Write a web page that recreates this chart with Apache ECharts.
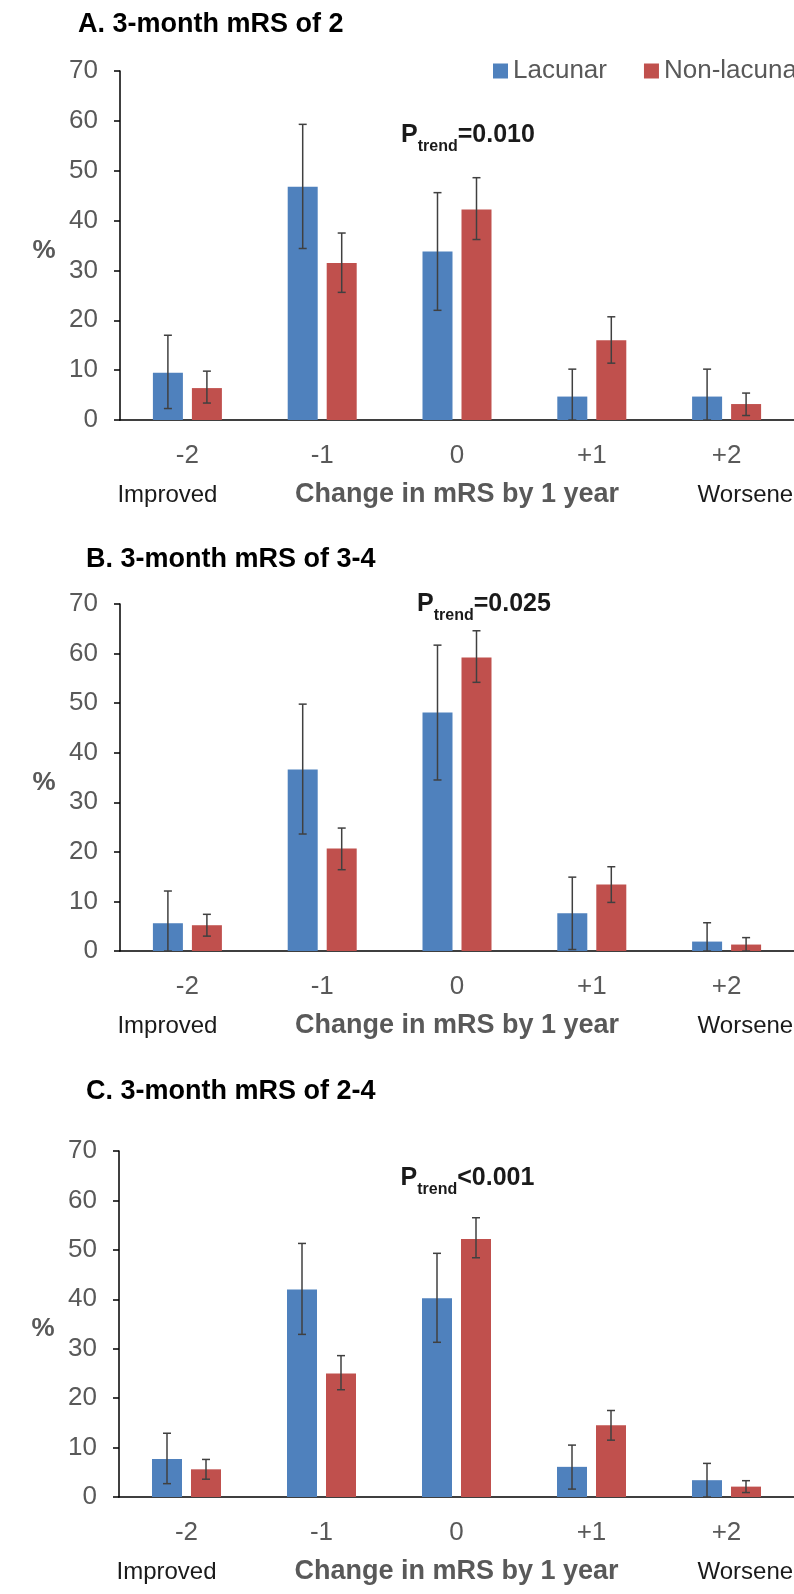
<!DOCTYPE html>
<html><head><meta charset="utf-8">
<script src="https://cdn.jsdelivr.net/npm/echarts@6/dist/echarts.min.js"></script>
<style>html,body{margin:0;padding:0;background:#fff}#c{width:794px;height:1594px}</style>
</head><body><div id="c"></div>
<script>
// ---------- data ----------
const categories = ['-2', '-1', '0', '+1', '+2'];
const seriesNames = ['Lacunar', 'Non-lacunar'];
const panelTitles = ['A. 3-month mRS of 2', 'B. 3-month mRS of 3-4', 'C. 3-month mRS of 2-4'];
const pTrendValues = ['=0.010', '=0.025', '<0.001'];
const yMin = 0, yMax = 70, yStep = 10;

// Panel A
const lacunarA      = [9.5, 46.8, 33.8, 4.7, 4.7];
const lacunarA_lo   = [2.3, 34.4, 22.0, 0.0, 0.0];
const lacunarA_hi   = [17.0, 59.3, 45.6, 10.2, 10.2];
const nonLacunarA    = [6.4, 31.5, 42.2, 16.0, 3.2];
const nonLacunarA_lo = [3.4, 25.6, 36.2, 11.4, 0.9];
const nonLacunarA_hi = [9.8, 37.5, 48.6, 20.7, 5.4];
// Panel B
const lacunarB      = [5.6, 36.6, 48.1, 7.6, 1.9];
const lacunarB_lo   = [0.0, 23.6, 34.5, 0.3, 0.0];
const lacunarB_hi   = [12.1, 49.8, 61.7, 14.9, 5.7];
const nonLacunarB    = [5.2, 20.7, 59.2, 13.4, 1.3];
const nonLacunarB_lo = [3.0, 16.4, 54.2, 9.8, 0.0];
const nonLacunarB_hi = [7.4, 24.8, 64.6, 17.0, 2.7];
// Panel C
const lacunarC      = [7.7, 42.0, 40.2, 6.1, 3.4];
const lacunarC_lo   = [2.7, 32.9, 31.3, 1.6, 0.0];
const lacunarC_hi   = [12.9, 51.3, 49.3, 10.5, 6.8];
const nonLacunarC    = [5.6, 25.0, 52.2, 14.5, 2.1];
const nonLacunarC_lo = [3.6, 21.7, 48.4, 11.5, 0.9];
const nonLacunarC_hi = [7.6, 28.6, 56.5, 17.5, 3.3];

const panels = [
  {lac: lacunarA, lacLo: lacunarA_lo, lacHi: lacunarA_hi, non: nonLacunarA, nonLo: nonLacunarA_lo, nonHi: nonLacunarA_hi},
  {lac: lacunarB, lacLo: lacunarB_lo, lacHi: lacunarB_hi, non: nonLacunarB, nonLo: nonLacunarB_lo, nonHi: nonLacunarB_hi},
  {lac: lacunarC, lacLo: lacunarC_lo, lacHi: lacunarC_hi, non: nonLacunarC, nonLo: nonLacunarC_lo, nonHi: nonLacunarC_hi}
];

// ---------- layout / style ----------
const FONT = '"Liberation Sans", Arial, sans-serif';
const BLUE = '#4F81BD', RED = '#C0504D', GRAY = '#595959', ERR = '#404040';
const BAR_W = 30, BAR_GAP = 9;
const grids = [
  {left: 120, right: -4, top: 71, height: 349},
  {left: 120, right: -4, top: 604, height: 347},
  {left: 119, right: -4, top: 1151, height: 346}
];
const titlePos = [{left: 78, top: 11}, {left: 86, top: 546}, {left: 86, top: 1078}];
const pTrendAt = [{cat: 2, val: 56.4, dx: 11}, {cat: 2, val: 69.1, dx: 27}, {cat: 2, val: 63.8, dx: 11}];

function errSeries(gi, lo, hi, offset) {
  return {
    type: 'custom', xAxisIndex: gi, yAxisIndex: gi, z: 10, silent: true,
    data: lo.map((l, i) => [i, l, hi[i]]),
    renderItem(params, api) {
      const a = api.coord([api.value(0), api.value(1)]);
      const b = api.coord([api.value(0), api.value(2)]);
      const cx = a[0] + offset, cap = 4;
      const st = {stroke: ERR, lineWidth: 1.5};
      return {type: 'group', children: [
        {type: 'line', shape: {x1: cx, y1: a[1], x2: cx, y2: b[1]}, style: st},
        {type: 'line', shape: {x1: cx - cap, y1: b[1], x2: cx + cap, y2: b[1]}, style: st},
        {type: 'line', shape: {x1: cx - cap, y1: a[1], x2: cx + cap, y2: a[1]}, style: st}
      ]};
    }
  };
}

const option = {
  animation: false,
  backgroundColor: '#fff',
  textStyle: {fontFamily: FONT},
  title: panelTitles.map((t, i) => ({
    text: t, left: titlePos[i].left, top: titlePos[i].top, padding: 0,
    textStyle: {fontFamily: FONT, fontSize: 27, fontWeight: 'bold', color: '#000'}
  })),
  legend: {
    data: seriesNames, left: 493, top: 58, width: 500, padding: 0,
    icon: 'rect', itemWidth: 15, itemHeight: 15, itemGap: 37,
    textStyle: {fontFamily: FONT, fontSize: 26, color: GRAY}
  },
  grid: grids.map(g => Object.assign({containLabel: false}, g)),
  xAxis: grids.map((g, i) => ({
    type: 'category', gridIndex: i, data: categories,
    axisLine: {show: true, lineStyle: {color: '#000', width: 1.5}},
    axisTick: {show: false},
    axisLabel: {color: GRAY, fontSize: 26, fontFamily: FONT, margin: 23},
    name: 'Change in mRS by 1 year', nameLocation: 'middle', nameGap: 61,
    nameTextStyle: {color: GRAY, fontSize: 27, fontWeight: 'bold', fontFamily: FONT},
    splitLine: {show: false}
  })),
  yAxis: grids.map((g, i) => ({
    type: 'value', gridIndex: i, min: yMin, max: yMax, interval: yStep,
    axisLine: {show: true, lineStyle: {color: '#000', width: 1.5}},
    axisTick: {show: true, length: 6, lineStyle: {color: '#000', width: 1.5}},
    axisLabel: {color: GRAY, fontSize: 26, fontFamily: FONT, margin: 22},
    splitLine: {show: false}
  })),
  series: []
};

panels.forEach((p, i) => {
  option.series.push({
    name: seriesNames[0], type: 'bar', xAxisIndex: i, yAxisIndex: i, data: p.lac,
    barWidth: BAR_W, barGap: (BAR_GAP / BAR_W * 100) + '%', itemStyle: {color: BLUE}
  });
  option.series.push({
    name: seriesNames[1], type: 'bar', xAxisIndex: i, yAxisIndex: i, data: p.non,
    barWidth: BAR_W, barGap: (BAR_GAP / BAR_W * 100) + '%', itemStyle: {color: RED}
  });
  option.series.push(errSeries(i, p.lacLo, p.lacHi, -(BAR_W + BAR_GAP) / 2));
  option.series.push(errSeries(i, p.nonLo, p.nonHi, (BAR_W + BAR_GAP) / 2));
});

const chart = echarts.init(document.getElementById('c'), null, {renderer: 'canvas'});
chart.setOption(option);

// annotations anchored to the axes
const graphics = [];
grids.forEach((g, i) => {
  const c0 = chart.convertToPixel({gridIndex: i}, [0, 0]);
  const c4 = chart.convertToPixel({gridIndex: i}, [4, 0]);
  const mid = chart.convertToPixel({gridIndex: i}, [0, 34]);
  const pt = chart.convertToPixel({gridIndex: i}, [pTrendAt[i].cat, pTrendAt[i].val]);
  graphics.push({type: 'text', style: {text: 'Improved', x: c0[0] - 20, y: c0[1] + 75,
    align: 'center', verticalAlign: 'middle', font: '24px ' + FONT, fill: '#1a1a1a'}});
  graphics.push({type: 'text', style: {text: 'Worsened', x: c4[0] - 29, y: c4[1] + 75,
    align: 'left', verticalAlign: 'middle', font: '24px ' + FONT, fill: '#1a1a1a'}});
  graphics.push({type: 'text', style: {text: '%', x: g.left - 76, y: mid[1],
    align: 'center', verticalAlign: 'middle', font: 'bold 26px ' + FONT, fill: GRAY}});
  graphics.push({type: 'text', style: {
    text: '{a|P}{b|trend}{a|' + pTrendValues[i] + '}',
    x: pt[0] + pTrendAt[i].dx, y: pt[1], align: 'center', verticalAlign: 'middle',
    rich: {
      a: {fontSize: 25, fontWeight: 'bold', fontFamily: FONT, fill: '#1a1a1a', verticalAlign: 'bottom', padding: [0, 0, 7, 0], lineHeight: 31},
      b: {fontSize: 16, fontWeight: 'bold', fontFamily: FONT, fill: '#1a1a1a', verticalAlign: 'bottom', lineHeight: 31}
    }
  }});
});
chart.setOption({graphic: graphics});
</script>
</body></html>
